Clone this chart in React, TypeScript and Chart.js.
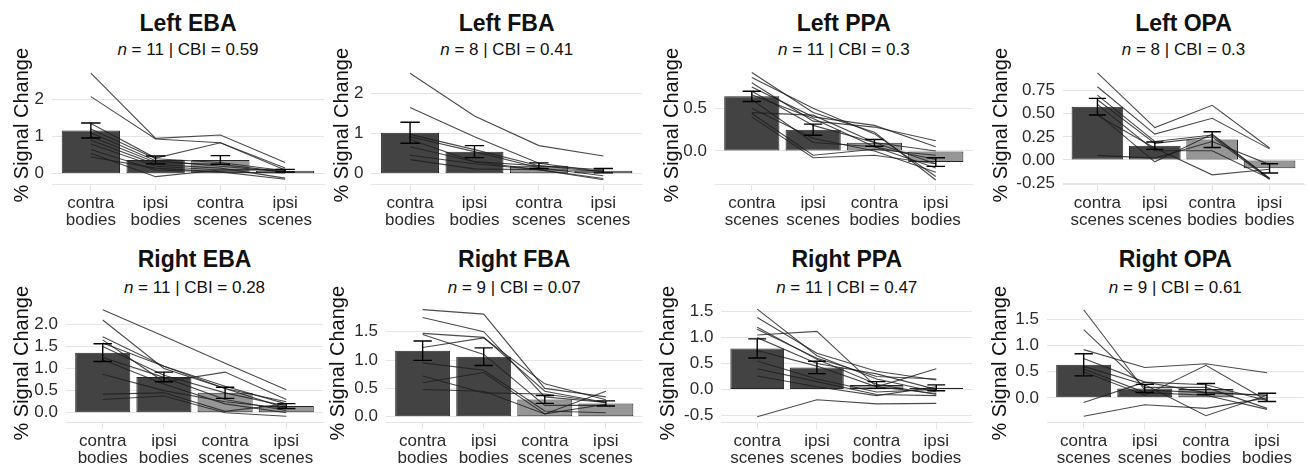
import React, { useEffect, useRef } from "react";
import { Chart, registerables } from "chart.js";

Chart.register(...registerables);

const FONT = '"Liberation Sans", Arial, Helvetica, sans-serif';

// ---------- categories ----------
const BODY_FIRST = [["contra", "bodies"], ["ipsi", "bodies"], ["contra", "scenes"], ["ipsi", "scenes"]];
const SCENE_FIRST = [["contra", "scenes"], ["ipsi", "scenes"], ["contra", "bodies"], ["ipsi", "bodies"]];

// ---------- panel titles / stats ----------
const panelTitles = ["Left EBA", "Left FBA", "Left PPA", "Left OPA", "Right EBA", "Right FBA", "Right PPA", "Right OPA"];
const panelN = [11, 8, 11, 8, 11, 9, 11, 9];
const panelCBI = ["0.59", "0.41", "0.3", "0.3", "0.28", "0.07", "0.47", "0.61"];

// ---------- Left EBA ----------
const leftEBAMeans = [1.16, 0.37, 0.37, 0.08];
const leftEBASE = [0.2, 0.105, 0.115, 0.035];
const leftEBATicks = [0, 1, 2];
const leftEBASubjects = [
  [2.7, 0.95, 1.04, 0.3],
  [2.07, 0.93, 0.83, 0.15],
  [1.35, 0.42, 0.83, 0.1],
  [1.2, 0.4, 0.3, 0.08],
  [1.1, 0.35, 0.2, 0.05],
  [1.0, 0.3, 0.25, 0.05],
  [0.9, 0.25, 0.15, -0.12],
  [0.8, 0.2, 0.1, 0.1],
  [0.65, 0.1, 0.05, 0.02],
  [0.55, -0.08, 0.1, 0.12],
  [0.45, 0.15, 0.05, -0.15],
];

// ---------- Left FBA ----------
const leftFBAMeans = [1.02, 0.55, 0.2, 0.075];
const leftFBASE = [0.26, 0.15, 0.07, 0.055];
const leftFBATicks = [0, 1, 2];
const leftFBASubjects = [
  [2.5, 1.44, 0.7, 0.44],
  [1.65, 0.92, 0.26, 0.05],
  [0.98, 0.6, 0.2, 0.05],
  [0.92, 0.55, 0.15, -0.05],
  [0.85, 0.3, 0.2, 0.1],
  [0.67, 0.3, 0.1, -0.12],
  [0.46, 0.25, 0.1, -0.15],
  [0.35, 0.12, 0.1, 0.08],
];

// ---------- Left PPA ----------
const leftPPAMeans = [0.64, 0.25, 0.095, -0.13];
const leftPPASE = [0.06, 0.065, 0.04, 0.05];
const leftPPATicks = [0, 0.5];
const leftPPASubjects = [
  [0.92, 0.45, 0.22, -0.34],
  [0.86, 0.5, 0.2, -0.3],
  [0.8, 0.35, 0.28, 0.12],
  [0.75, 0.4, 0.3, 0.05],
  [0.7, 0.3, 0.1, -0.15],
  [0.66, 0.38, 0.05, -0.2],
  [0.6, 0.1, 0.05, -0.1],
  [0.5, 0.15, 0.0, -0.25],
  [0.45, 0.42, 0.1, 0.0],
  [0.4, -0.08, -0.05, -0.15],
  [0.44, -0.05, 0.02, -0.05],
];

// ---------- Left OPA ----------
const leftOPAMeans = [0.575, 0.155, 0.22, -0.09];
const leftOPASE = [0.09, 0.04, 0.085, 0.05];
const leftOPATicks = [-0.25, 0, 0.25, 0.5, 0.75];
const leftOPASubjects = [
  [0.94, 0.35, 0.59, 0.13],
  [0.79, 0.28, 0.45, 0.12],
  [0.7, 0.2, 0.27, -0.2],
  [0.65, 0.18, 0.25, -0.21],
  [0.6, 0.1, 0.1, -0.2],
  [0.5, -0.02, 0.28, -0.2],
  [0.48, 0.13, -0.16, -0.1],
  [0.05, 0.02, 0.2, -0.05],
];

// ---------- Right EBA ----------
const rightEBAMeans = [1.36, 0.81, 0.45, 0.15];
const rightEBASE = [0.2, 0.11, 0.125, 0.055];
const rightEBATicks = [0, 0.5, 1, 1.5, 2];
const rightEBASubjects = [
  [2.33, 1.73, 1.12, 0.52],
  [2.1, 1.0, 0.55, 0.25],
  [1.72, 1.05, 0.6, 0.2],
  [1.65, 0.7, 0.92, 0.3],
  [1.58, 1.05, 0.55, 0.1],
  [1.5, 0.85, 0.45, 0.15],
  [1.25, 0.8, 0.3, 0.05],
  [1.2, 0.65, 0.2, 0.0],
  [0.87, 0.5, 0.25, 0.1],
  [0.42, 0.45, 0.03, 0.2],
  [0.3, 0.38, 0.0, -0.08],
];

// ---------- Right FBA ----------
const rightFBAMeans = [1.165, 1.06, 0.305, 0.235];
const rightFBASE = [0.17, 0.155, 0.07, 0.045];
const rightFBATicks = [0, 0.5, 1, 1.5];
const rightFBASubjects = [
  [1.89, 1.81, 0.5, 0.35],
  [1.75, 1.5, 0.35, 0.25],
  [1.47, 1.4, 0.45, 0.25],
  [1.45, 1.1, 0.2, 0.2],
  [1.22, 1.39, 0.58, 0.3],
  [0.95, 0.82, 0.1, 0.07],
  [0.72, 0.42, 0.4, 0.25],
  [0.6, 0.78, 0.05, 0.45],
  [0.48, 0.45, 0.05, 0.22],
];

// ---------- Right PPA ----------
const rightPPAMeans = [0.79, 0.425, 0.085, 0.03];
const rightPPASE = [0.185, 0.12, 0.065, 0.057];
const rightPPATicks = [-0.5, 0, 0.5, 1, 1.5];
const rightPPASubjects = [
  [1.55, 0.65, 0.2, -0.05],
  [1.39, 0.7, 0.35, 0.18],
  [1.2, 0.58, 0.1, -0.1],
  [1.16, 0.6, 0.25, 0.2],
  [1.05, 1.12, 0.05, -0.08],
  [1.0, 0.5, 0.3, 0.0],
  [0.75, 0.45, 0.05, 0.4],
  [0.55, 0.2, -0.05, 0.0],
  [0.4, 0.15, -0.1, -0.12],
  [0.26, 0.05, -0.12, 0.05],
  [-0.53, -0.2, -0.28, -0.27],
];

// ---------- Right OPA ----------
const rightOPAMeans = [0.63, 0.18, 0.17, 0.01];
const rightOPASE = [0.21, 0.078, 0.105, 0.078];
const rightOPATicks = [0, 0.5, 1, 1.5];
const rightOPASubjects = [
  [1.68, 0.15, 0.1, 0.05],
  [1.3, 0.2, 0.2, -0.2],
  [0.92, 0.58, 0.65, 0.48],
  [0.75, 0.3, 0.25, -0.05],
  [0.6, 0.25, -0.34, 0.05],
  [0.55, 0.1, 0.05, -0.22],
  [0.5, 0.05, 0.62, -0.05],
  [-0.09, 0.3, 0.1, 0.05],
  [-0.35, -0.13, -0.2, 0.0],
];

// ---------- layout (kept separate from data) ----------
const ROW_PLOT_TOP = [66.5, 304.5];
const ROW_PLOT_BOTTOM = [184, 422];
const ROW_CANVAS_TOP = [0, 238];
const CANVAS_H = 226;
const TITLE_Y = [22.5, 258.5];
const SUB_Y = [49.2, 286.7];

const PANELS = [
  { cats: BODY_FIRST, means: leftEBAMeans, se: leftEBASE, subjects: leftEBASubjects, ticks: leftEBATicks, dec: 0, yMin: -0.277, yMax: 2.88, row: 0, plotLeft: 52, plotRight: 324, yTitleX: 22 },
  { cats: BODY_FIRST, means: leftFBAMeans, se: leftFBASE, subjects: leftFBASubjects, ticks: leftFBATicks, dec: 0, yMin: -0.256, yMax: 2.67, row: 0, plotLeft: 371.4, plotRight: 642, yTitleX: 342 },
  { cats: SCENE_FIRST, means: leftPPAMeans, se: leftPPASE, subjects: leftPPASubjects, ticks: leftPPATicks, dec: 1, yMin: -0.387, yMax: 0.99, row: 0, plotLeft: 715, plotRight: 972.6, yTitleX: 672 },
  { cats: SCENE_FIRST, means: leftOPAMeans, se: leftOPASE, subjects: leftOPASubjects, ticks: leftOPATicks, dec: 2, yMin: -0.259, yMax: 1.009, row: 0, plotLeft: 1063, plotRight: 1304, yTitleX: 1001 },
  { cats: BODY_FIRST, means: rightEBAMeans, se: rightEBASE, subjects: rightEBASubjects, ticks: rightEBATicks, dec: 1, yMin: -0.21, yMax: 2.45, row: 1, plotLeft: 66, plotRight: 323, yTitleX: 22 },
  { cats: BODY_FIRST, means: rightFBAMeans, se: rightFBASE, subjects: rightFBASubjects, ticks: rightFBATicks, dec: 1, yMin: -0.093, yMax: 1.98, row: 1, plotLeft: 386, plotRight: 642.5, yTitleX: 338 },
  { cats: SCENE_FIRST, means: rightPPAMeans, se: rightPPASE, subjects: rightPPASubjects, ticks: rightPPATicks, dec: 1, yMin: -0.63, yMax: 1.64, row: 1, plotLeft: 721.4, plotRight: 972.1, yTitleX: 668 },
  { cats: SCENE_FIRST, means: rightOPAMeans, se: rightOPASE, subjects: rightOPASubjects, ticks: rightOPATicks, dec: 1, yMin: -0.46, yMax: 1.78, row: 1, plotLeft: 1047, plotRight: 1303.7, yTitleX: 1000 },
];

const GRID = "#e5e5e5";
const DARK_BAR = "#434343";
const LIGHT_BAR = "#969696";
const BAR_BORDER = "#262626";
const LINE_COLOR = "rgba(30,30,30,0.8)";
const Y_TITLE_SIZE = 20;

const errorBarPlugin = {
  id: "errorBars",
  afterDatasetsDraw(chart: any, _args: any, opts: any) {
    const { ctx } = chart;
    const x = chart.scales.x;
    const y = chart.scales.y;
    const means: number[] = opts.means;
    const se: number[] = opts.se;
    const cap = opts.capWidth;
    ctx.save();
    ctx.strokeStyle = "#000";
    ctx.lineWidth = 1.4;
    means.forEach((m, i) => {
      const cx = x.getPixelForValue(i);
      const half = (x.getPixelForValue(i + cap / 2) - x.getPixelForValue(i - cap / 2)) / 2;
      const t = y.getPixelForValue(m + se[i]);
      const b = y.getPixelForValue(m - se[i]);
      ctx.beginPath();
      ctx.moveTo(cx, t);
      ctx.lineTo(cx, b);
      ctx.moveTo(cx - half, t);
      ctx.lineTo(cx + half, t);
      ctx.moveTo(cx - half, b);
      ctx.lineTo(cx + half, b);
      ctx.stroke();
    });
    ctx.restore();
  },
};

function Panel({ p }: { p: any }) {
  const ref = useRef<HTMLCanvasElement>(null);
  const canvasLeft = Math.max(0, Math.floor(p.yTitleX - 20));
  const canvasRight = Math.min(1307, Math.ceil(p.plotRight + 3));
  const width = canvasRight - canvasLeft;
  const top = ROW_CANVAS_TOP[p.row];
  const height = CANVAS_H;

  useEffect(() => {
    if (!ref.current) return;
    const scaleLeft = p.yTitleX - (4 + (Y_TITLE_SIZE * 1.2) / 2) - canvasLeft;
    const yAxisW = p.plotLeft - canvasLeft - scaleLeft;
    const padTop = ROW_PLOT_TOP[p.row] - top;
    const xAxisH = top + height - ROW_PLOT_BOTTOM[p.row];
    const barColors = p.means.map((_: number, i: number) => (i < 2 ? DARK_BAR : LIGHT_BAR));

    const datasets: any[] = [
      {
        type: "bar",
        data: p.means.map((v: number, i: number) => ({ x: i, y: v })),
        backgroundColor: barColors,
        borderColor: BAR_BORDER,
        borderWidth: 1,
        borderSkipped: false,
        barPercentage: 0.9,
        categoryPercentage: 1,
        order: 10,
      },
      ...p.subjects.map((s: number[]) => ({
        type: "line",
        data: s.map((v, i) => ({ x: i, y: v })),
        borderColor: LINE_COLOR,
        borderWidth: 1.1,
        pointRadius: 0,
        tension: 0,
        fill: false,
        order: 0,
      })),
    ];

    const chart = new Chart(ref.current, {
      data: { datasets },
      options: {
        responsive: false,
        maintainAspectRatio: false,
        animation: false,
        events: [],
        layout: {
          padding: { left: scaleLeft, top: padTop, right: canvasRight - p.plotRight, bottom: 0 },
        },
        plugins: {
          legend: { display: false },
          tooltip: { enabled: false },
          errorBars: { means: p.means, se: p.se, capWidth: 0.3 },
        } as any,
        scales: {
          x: {
            type: "linear",
            bounds: "data",
            offset: false,
            min: -0.6,
            max: 3.6,
            afterBuildTicks: (s: any) => {
              s.ticks = [0, 1, 2, 3].map((v) => ({ value: v }));
            },
            afterFit: (s: any) => {
              s.height = xAxisH;
            },
            ticks: {
              autoSkip: false,
              maxRotation: 0,
              minRotation: 0,
              padding: 3.5,
              color: "#2b2b2b",
              font: { family: FONT, size: 17, lineHeight: 1.0 },
              callback: (v: any) => p.cats[Math.round(v)],
            },
            grid: { offset: false, drawOnChartArea: false, drawTicks: true, tickLength: 7, color: GRID, lineWidth: 1 },
            border: { display: true, color: GRID, width: 1 },
          },
          y: {
            type: "linear",
            bounds: "data",
            min: p.yMin,
            max: p.yMax,
            afterBuildTicks: (s: any) => {
              s.ticks = p.ticks.map((v: number) => ({ value: v }));
            },
            afterFit: (s: any) => {
              s.width = yAxisW;
            },
            ticks: {
              padding: 8,
              color: "#2b2b2b",
              font: { family: FONT, size: 17 },
              callback: (v: any) => Number(v).toFixed(p.dec),
            },
            grid: { drawTicks: false, color: GRID, lineWidth: 1 },
            border: { display: false },
            title: {
              display: true,
              text: "% Signal Change",
              color: "#111",
              font: { family: FONT, size: Y_TITLE_SIZE },
              padding: { top: 4, bottom: 4 },
            },
          },
        },
      } as any,
      plugins: [errorBarPlugin as any],
    });
    return () => chart.destroy();
  }, []);

  return (
    <canvas
      ref={ref}
      width={width}
      height={height}
      style={{ position: "absolute", left: canvasLeft, top, width, height }}
    />
  );
}

export default function App() {
  return (
    <div
      style={{
        position: "fixed",
        left: 0,
        top: 0,
        width: 1307,
        height: 464,
        background: "#fff",
        overflow: "hidden",
        fontFamily: FONT,
      }}
    >
      {PANELS.map((p, i) => {
        const cx = (p.plotLeft + p.plotRight) / 2;
        return (
          <React.Fragment key={i}>
            <div
              style={{
                position: "absolute",
                left: cx,
                top: TITLE_Y[p.row],
                transform: "translate(-50%, -50%)",
                fontWeight: "bold",
                fontSize: 23,
                lineHeight: 1,
                whiteSpace: "nowrap",
                color: "#111",
              }}
            >
              {panelTitles[i]}
            </div>
            <div
              style={{
                position: "absolute",
                left: cx,
                top: SUB_Y[p.row],
                transform: "translate(-50%, -50%)",
                fontSize: 17,
                lineHeight: 1,
                whiteSpace: "nowrap",
                color: "#111",
              }}
            >
              <i>n</i> = {panelN[i]} | CBI = {panelCBI[i]}
            </div>
            <Panel p={p} />
          </React.Fragment>
        );
      })}
    </div>
  );
}
